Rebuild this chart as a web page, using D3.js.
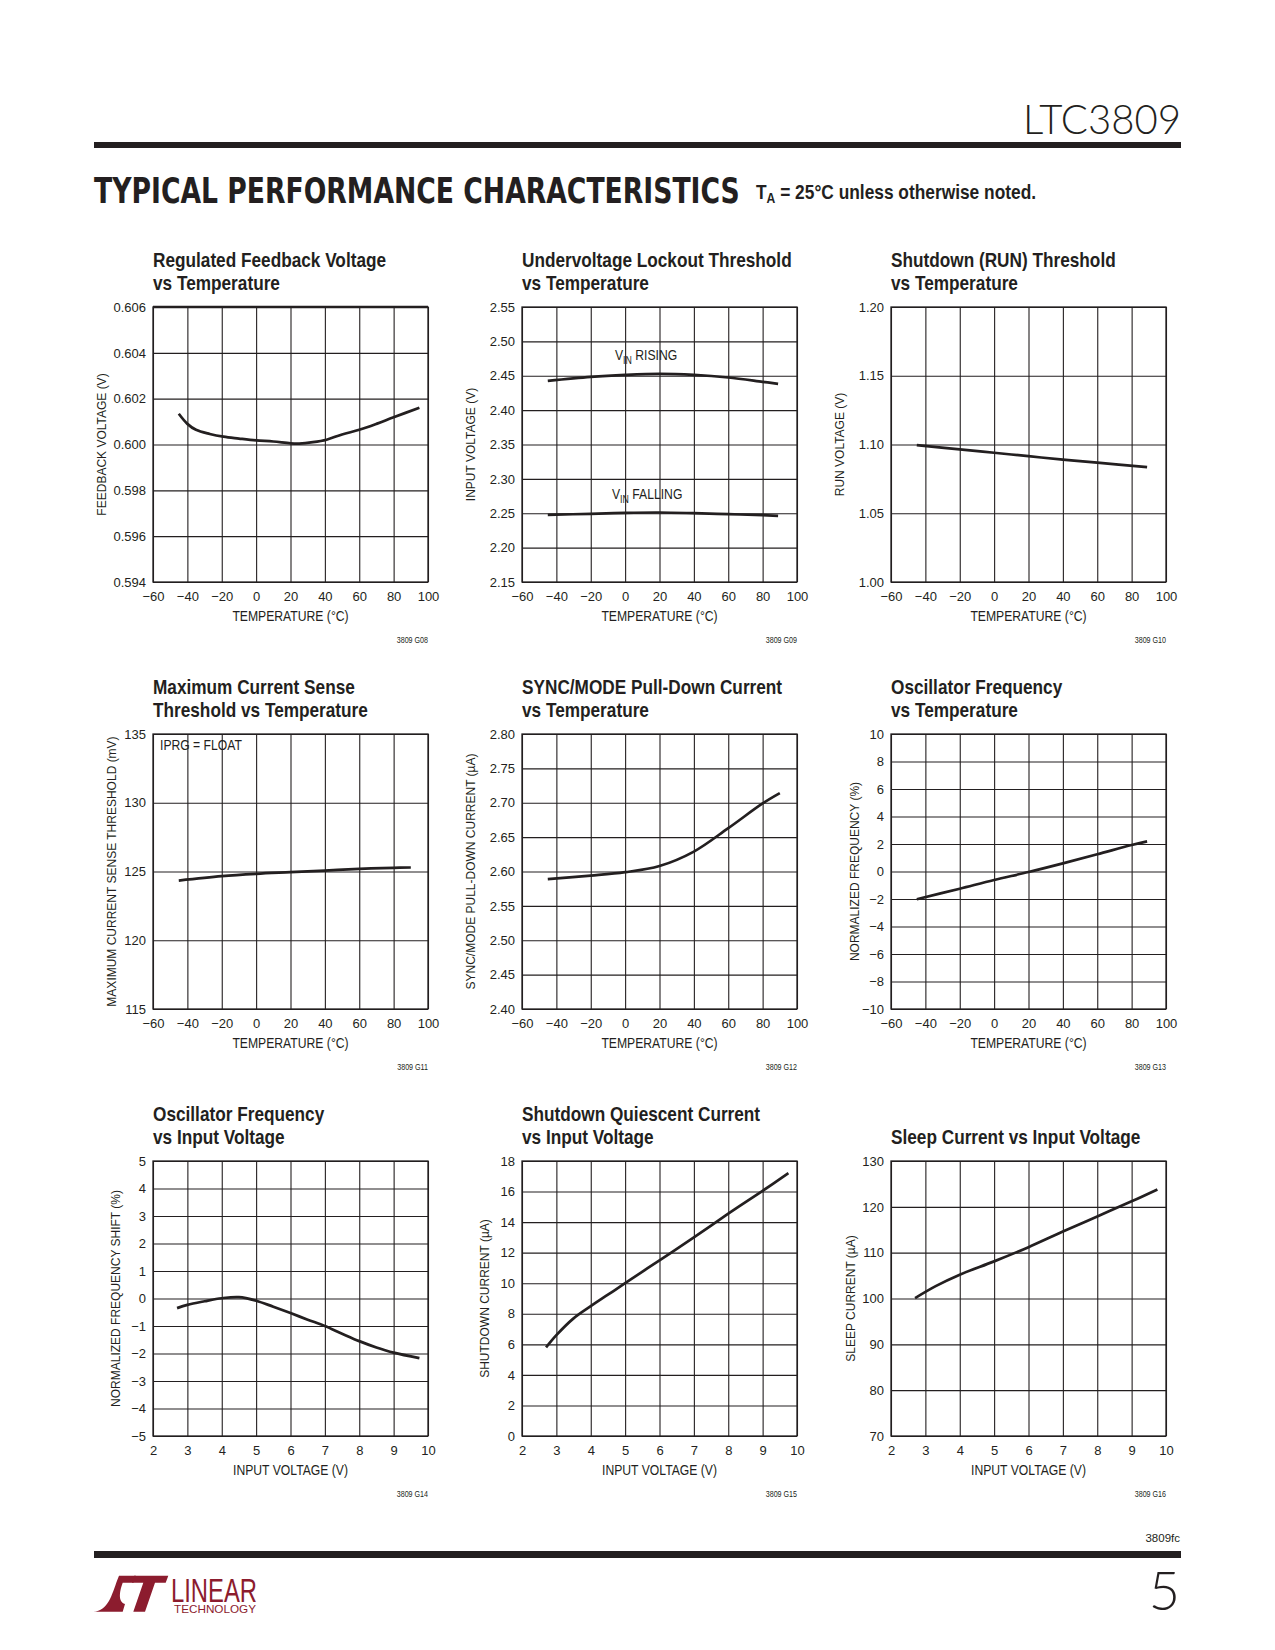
<!DOCTYPE html>
<html>
<head>
<meta charset="utf-8">
<script src="https://cdnjs.cloudflare.com/ajax/libs/d3/7.8.5/d3.min.js"></script>
<style>
  body { margin: 0; background: #fff; }
  svg text { fill: #231f20; }
</style>
</head>
<body>
<svg id="page" width="1275" height="1650"></svg>
<script>
// ---- data ----
const tempTicks = [-60, -40, -20, 0, 20, 40, 60, 80, 100];
const vinTicks = [2, 3, 4, 5, 6, 7, 8, 9, 10];

// G08 regulated feedback voltage vs temperature
const fbTicks = [0.594, 0.596, 0.598, 0.600, 0.602, 0.604, 0.606];
const fbTemp = [-45, -40, -35, -27, -19, -10, 0, 10, 20, 25, 33, 41, 50, 60, 70, 80, 95];
const fbVolt = [0.60134, 0.6009, 0.60064, 0.60046, 0.60034, 0.60026, 0.60018, 0.60013, 0.60005,
                0.60004, 0.6001, 0.60021, 0.60044, 0.60064, 0.6009, 0.60119, 0.6016];

// G09 undervoltage lockout threshold
const uvloTicks = [2.15, 2.20, 2.25, 2.30, 2.35, 2.40, 2.45, 2.50, 2.55];
const uvloTemp = [-45, -20, 0, 20, 40, 60, 80, 89];
const uvloRising = [2.4426, 2.4484, 2.4513, 2.4528, 2.4513, 2.4475, 2.4412, 2.4383];
const uvloFalling = [2.2477, 2.2492, 2.2506, 2.2511, 2.2501, 2.2487, 2.2472, 2.2463];

// G10 shutdown (RUN) threshold
const runTicks = [1.00, 1.05, 1.10, 1.15, 1.20];
const runTemp = [-45, -20, 0, 20, 40, 60, 89];
const runVolt = [1.0995, 1.0965, 1.0940, 1.0915, 1.0890, 1.0868, 1.0835];

// G11 maximum current sense threshold
const senseTicks = [115, 120, 125, 130, 135];
const senseTemp = [-45, -20, 0, 20, 40, 60, 80, 90];
const senseThr = [124.34, 124.66, 124.83, 124.95, 125.07, 125.19, 125.27, 125.29];

// G12 SYNC/MODE pull-down current
const syncTicks = [2.40, 2.45, 2.50, 2.55, 2.60, 2.65, 2.70, 2.75, 2.80];
const syncTemp = [-45, -20, 0, 20, 40, 60, 80, 90];
const syncCurr = [2.589, 2.594, 2.599, 2.608, 2.629, 2.663, 2.699, 2.714];

// G13 oscillator frequency vs temperature
const oscTTicks = [-10, -8, -6, -4, -2, 0, 2, 4, 6, 8, 10];
const oscTemp = [-45, -20, 0, 20, 40, 60, 80, 89];
const oscFreqT = [-2.02, -1.25, -0.62, -0.04, 0.59, 1.25, 1.93, 2.19];

// G14 oscillator frequency vs input voltage
const oscVTicks = [-5, -4, -3, -2, -1, 0, 1, 2, 3, 4, 5];
const oscVin = [2.7, 3, 3.5, 4, 4.5, 5, 5.5, 6, 6.5, 7, 7.5, 8, 8.5, 9, 9.75];
const oscShift = [-0.35, -0.23, -0.1, 0.01, 0.05, -0.08, -0.3, -0.53, -0.77, -1.0, -1.28, -1.55, -1.78, -1.97, -2.17];

// G15 shutdown quiescent current
const sdTicks = [0, 2, 4, 6, 8, 10, 12, 14, 16, 18];
const sdVin = [2.7, 3.0, 3.5, 4, 4.5, 5, 6, 7, 8, 9, 9.75];
const sdCurr = [5.8, 6.6, 7.7, 8.5, 9.25, 10.0, 11.5, 13.0, 14.55, 16.05, 17.2];

// G16 sleep current
const sleepTicks = [70, 80, 90, 100, 110, 120, 130];
const sleepVin = [2.7, 3.3, 4, 5, 6, 7, 8, 9, 9.75];
const sleepCurr = [100.1, 102.7, 105.2, 108.1, 111.2, 114.6, 117.9, 121.2, 123.8];

// ---- layout ----
const ink = "#231f20";
const logoRed = "#8c1c2e";
const colX = [153, 522, 891];
const rowY = [307, 734, 1161];
const W = 275, H = 275;
const sans = "'Liberation Sans', Arial, sans-serif";
const NARROW = 0.84; // no condensed Helvetica here, so squeeze Liberation Sans

const f3 = d3.format(".3f"), f2 = d3.format(".2f"), f0 = d3.format("d");
const zip = (xs, ys) => xs.map((x, i) => [x, ys[i]]);

// condensed text: placed at (x, y) and squeezed horizontally around its anchor
function ctext(parent, x, y, str, opt) {
  opt = opt || {};
  const t = parent.append("text")
    .attr("transform", `translate(${x},${y}) scale(${opt.k || NARROW},1)`)
    .attr("text-anchor", opt.anchor || "start")
    .attr("font-family", sans)
    .attr("font-size", opt.size || 14)
    .attr("font-weight", opt.weight || "normal");
  if (str !== null) t.text(str);
  return t;
}

const charts = [
  { col: 0, row: 0, title: ["Regulated Feedback Voltage", "vs Temperature"],
    xTicks: tempTicks, yTicks: fbTicks, yFmt: f3, yLabel: "FEEDBACK VOLTAGE (V)", yOff: 51,
    xLabel: "TEMPERATURE (°C)", code: "3809 G08", thickTop: true,
    series: [zip(fbTemp, fbVolt)] },
  { col: 1, row: 0, title: ["Undervoltage Lockout Threshold", "vs Temperature"],
    xTicks: tempTicks, yTicks: uvloTicks, yFmt: f2, yLabel: "INPUT VOLTAGE (V)", yOff: 51,
    xLabel: "TEMPERATURE (°C)", code: "3809 G09",
    series: [zip(uvloTemp, uvloRising), zip(uvloTemp, uvloFalling)],
    notes: [{ x: 93, y: 53, main: "V", sub: "IN", rest: " RISING" },
            { x: 90, y: 192, main: "V", sub: "IN", rest: " FALLING" }] },
  { col: 2, row: 0, title: ["Shutdown (RUN) Threshold", "vs Temperature"],
    xTicks: tempTicks, yTicks: runTicks, yFmt: f2, yLabel: "RUN VOLTAGE (V)", yOff: 51,
    xLabel: "TEMPERATURE (°C)", code: "3809 G10",
    series: [zip(runTemp, runVolt)] },
  { col: 0, row: 1, title: ["Maximum Current Sense", "Threshold vs Temperature"],
    xTicks: tempTicks, yTicks: senseTicks, yFmt: f0, yLabel: "MAXIMUM CURRENT SENSE THRESHOLD (mV)", yOff: 41,
    xLabel: "TEMPERATURE (°C)", code: "3809 G11",
    series: [zip(senseTemp, senseThr)],
    notes: [{ x: 7, y: 16, main: "IPRG = FLOAT" }] },
  { col: 1, row: 1, title: ["SYNC/MODE Pull-Down Current", "vs Temperature"],
    xTicks: tempTicks, yTicks: syncTicks, yFmt: f2, yLabel: "SYNC/MODE PULL-DOWN CURRENT (µA)", yOff: 51,
    xLabel: "TEMPERATURE (°C)", code: "3809 G12",
    series: [zip(syncTemp, syncCurr)] },
  { col: 2, row: 1, title: ["Oscillator Frequency", "vs Temperature"],
    xTicks: tempTicks, yTicks: oscTTicks, yFmt: f0, yLabel: "NORMALIZED FREQUENCY (%)", yOff: 36,
    xLabel: "TEMPERATURE (°C)", code: "3809 G13",
    series: [zip(oscTemp, oscFreqT)] },
  { col: 0, row: 2, title: ["Oscillator Frequency", "vs Input Voltage"],
    xTicks: vinTicks, yTicks: oscVTicks, yFmt: f0, yLabel: "NORMALIZED FREQUENCY SHIFT (%)", yOff: 37,
    xLabel: "INPUT VOLTAGE (V)", code: "3809 G14",
    series: [zip(oscVin, oscShift)] },
  { col: 1, row: 2, title: ["Shutdown Quiescent Current", "vs Input Voltage"],
    xTicks: vinTicks, yTicks: sdTicks, yFmt: f0, yLabel: "SHUTDOWN CURRENT (µA)", yOff: 37,
    xLabel: "INPUT VOLTAGE (V)", code: "3809 G15",
    series: [zip(sdVin, sdCurr)] },
  { col: 2, row: 2, title: [null, "Sleep Current vs Input Voltage"],
    xTicks: vinTicks, yTicks: sleepTicks, yFmt: f0, yLabel: "SLEEP CURRENT (µA)", yOff: 40,
    xLabel: "INPUT VOLTAGE (V)", code: "3809 G16",
    series: [zip(sleepVin, sleepCurr)] }
];

const svg = d3.select("#page");

// ---- page header ----
svg.append("text")
  .attr("x", 1181).attr("y", 134)
  .attr("text-anchor", "end")
  .attr("font-family", "Lato, 'Open Sans', sans-serif")
  .attr("font-weight", 300)
  .attr("font-size", 41)
  .attr("textLength", 158).attr("lengthAdjust", "spacingAndGlyphs")
  .text("LTC3809");

svg.append("rect").attr("x", 94).attr("y", 142).attr("width", 1087).attr("height", 6).attr("fill", ink);

const head = svg.append("text")
  .attr("font-family", "'DejaVu Sans', sans-serif")
  .attr("font-weight", "bold")
  .attr("font-size", 36)
  .text("TYPICAL PERFORMANCE CHARACTERISTICS");
const headK = 646 / head.node().getComputedTextLength();
head.attr("transform", `translate(94,203) scale(${headK},1)`);

const ta = ctext(svg, 0, 0, null, { size: 20, weight: "bold" });
ta.append("tspan").text("T");
ta.append("tspan").attr("font-size", 14).attr("dy", 4).text("A");
ta.append("tspan").attr("dy", -4).text(" = 25°C unless otherwise noted.");
const taK = 280 / ta.node().getComputedTextLength();
ta.attr("transform", `translate(756,199) scale(${taK},1)`);

// ---- charts ----
charts.forEach(c => {
  const ox = colX[c.col], oy = rowY[c.row];
  const g = svg.append("g").attr("transform", `translate(${ox},${oy})`);

  const x = d3.scaleLinear().domain(d3.extent(c.xTicks)).range([0, W]);
  const y = d3.scaleLinear().domain(d3.extent(c.yTicks)).range([H, 0]);

  // grid + tick labels via the d3 axes
  const xa = g.append("g").attr("transform", `translate(0,${H})`)
    .call(d3.axisBottom(x).tickValues(c.xTicks).tickSize(-H).tickPadding(10).tickFormat(f0));
  const ya = g.append("g")
    .call(d3.axisLeft(y).tickValues(c.yTicks).tickSize(-W).tickPadding(7).tickFormat(c.yFmt));
  [xa, ya].forEach(a => {
    a.select(".domain").remove();
    a.selectAll("line").attr("stroke", ink).attr("stroke-width", 1.1);
    a.selectAll("text").attr("font-family", sans).attr("font-size", 13).attr("fill", ink);
  });

  g.append("rect").attr("width", W).attr("height", H)
    .attr("fill", "none").attr("stroke", ink).attr("stroke-width", 1.3);
  if (c.thickTop) {
    g.append("line").attr("x1", 0).attr("x2", W).attr("y1", 0).attr("y2", 0)
      .attr("stroke", ink).attr("stroke-width", 2.6);
  }

  const line = d3.line().x(d => x(d[0])).y(d => y(d[1])).curve(d3.curveCatmullRom.alpha(0.5));
  c.series.forEach(s => {
    g.append("path").datum(s).attr("d", line)
      .attr("fill", "none").attr("stroke", ink)
      .attr("stroke-width", 2.7).attr("stroke-linecap", "butt");
  });

  // chart title
  c.title.forEach((t, i) => {
    if (!t) return;
    ctext(g, 0, i === 0 ? -40 : -17, t, { size: 20.5, weight: "bold" });
  });

  // axis titles
  ctext(g, W / 2, H + 39, c.xLabel, { size: 14.5, anchor: "middle" });
  g.append("text")
    .attr("transform", `translate(${-c.yOff},${H / 2}) rotate(-90)`)
    .attr("text-anchor", "middle").attr("dominant-baseline", "central")
    .attr("font-family", sans).attr("font-size", 12)
    .text(c.yLabel);

  // figure code
  ctext(g, W, H + 61, c.code, { size: 8.5, anchor: "end" });

  // in-plot notes
  (c.notes || []).forEach(n => {
    const t = ctext(g, n.x, n.y, null, { size: 14.5 });
    t.append("tspan").text(n.main);
    if (n.sub) {
      t.append("tspan").attr("font-size", 10.5).attr("dy", 4).text(n.sub);
      t.append("tspan").attr("dy", -4).text(n.rest);
    }
  });
});

// ---- page footer ----
svg.append("text")
  .attr("x", 1180).attr("y", 1542)
  .attr("text-anchor", "end")
  .attr("font-family", sans).attr("font-size", 11.5)
  .text("3809fc");

svg.append("rect").attr("x", 94).attr("y", 1551).attr("width", 1087).attr("height", 7).attr("fill", ink);

svg.append("text")
  .attr("x", 1180).attr("y", 1610)
  .attr("text-anchor", "end")
  .attr("font-family", "Lato, 'Open Sans', sans-serif")
  .attr("font-weight", 300)
  .attr("font-size", 54)
  .text("5");

// Linear Technology logo
const logo = svg.append("g").attr("fill", logoRed);
logo.append("path").attr("d",
  "M93.3,1611.7 C108.3,1611 111.7,1595 117.3,1580 L119,1575.7 L136,1575.7 L133.5,1582.7 " +
  "L122.7,1582.7 C120,1590 117.3,1601.7 125,1604 L122.7,1611.7 Z");
logo.append("path").attr("d",
  "M134,1575.7 L168.3,1575.7 L165.7,1582.7 L155,1582.7 L145,1611.7 L133.3,1611.7 L143.3,1582.7 L132,1582.7 Z");
logo.append("text")
  .attr("x", 171).attr("y", 1602)
  .attr("font-family", sans).attr("font-size", 34)
  .attr("textLength", 86).attr("lengthAdjust", "spacingAndGlyphs")
  .style("fill", logoRed)
  .text("LINEAR");
logo.append("text")
  .attr("x", 174).attr("y", 1612.5)
  .attr("font-family", sans).attr("font-size", 10.5)
  .attr("textLength", 82).attr("lengthAdjust", "spacingAndGlyphs")
  .style("fill", logoRed)
  .text("TECHNOLOGY");
</script>
</body>
</html>
